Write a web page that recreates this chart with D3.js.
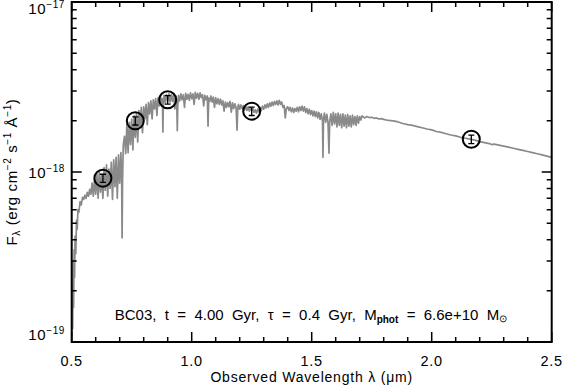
<!DOCTYPE html>
<html>
<head>
<meta charset="utf-8">
<script src="https://cdn.jsdelivr.net/npm/d3@7"></script>
<style>
  body { margin: 0; background: #fff; }
  text { font-family: "Liberation Sans", Arial, Helvetica, sans-serif; fill: #000; }
</style>
</head>
<body>
<div id="chart"></div>
<script>
// size and plot box
var w = 564;
var h = 385;
var boxLeft = 71.7, boxRight = 551.7, boxTop = 2, boxBottom = 342;

// flux unit of the tables below (erg cm^-2 s^-1 A^-1)
var fluxUnit = 1e-18;

// model spectrum [wavelength (um), flux / 1e-18]
var spectrum = [
  [0.500,0.11],[0.502,0.22],[0.504,0.12],[0.506,0.30],[0.508,0.16],[0.510,0.35],[0.512,0.24],[0.514,0.42],
  [0.517,0.33],[0.520,0.52],[0.523,0.46],[0.526,0.60],[0.530,0.58],[0.535,0.67],[0.540,0.64],[0.545,0.71],
  [0.550,0.69],[0.555,0.73],[0.560,0.70],[0.565,0.76],[0.570,0.72],[0.575,0.79],[0.580,0.74],[0.585,0.86],
  [0.590,0.72],[0.595,0.92],[0.600,0.74],[0.605,0.98],[0.610,0.70],[0.615,1.02],[0.620,0.76],[0.625,0.96],
  [0.630,0.70],[0.635,1.06],[0.640,0.78],[0.645,1.10],[0.650,0.72],[0.655,1.04],[0.660,0.80],[0.665,1.14],
  [0.670,0.69],[0.675,1.18],[0.680,0.82],[0.685,1.22],[0.690,0.70],[0.695,1.26],[0.700,0.86],[0.705,1.30],
  [0.708,0.95],[0.710,0.41],[0.712,0.90],[0.715,1.45],[0.720,1.62],[0.725,1.28],[0.730,1.92],[0.735,1.30],
  [0.740,1.96],[0.745,1.45],[0.750,2.05],[0.755,1.35],[0.760,2.15],[0.765,1.60],[0.770,2.22],[0.775,1.50],
  [0.780,2.30],[0.785,1.85],[0.790,2.40],[0.795,1.70],[0.800,2.42],[0.805,2.05],[0.810,2.50],[0.815,1.90],
  [0.820,2.56],[0.825,2.20],[0.830,2.62],[0.835,2.05],[0.840,2.66],[0.845,2.35],[0.850,2.70],[0.855,2.15],
  [0.860,2.74],[0.865,2.45],[0.870,2.78],[0.875,2.50],[0.878,2.70],[0.880,1.72],[0.882,2.60],[0.885,2.82],
  [0.890,2.55],[0.895,2.85],[0.900,2.62],[0.905,2.88],[0.910,2.58],[0.915,2.86],[0.920,2.60],[0.925,2.84],
  [0.930,2.35],[0.935,2.80],[0.938,2.40],[0.940,1.75],[0.942,2.45],[0.945,2.82],[0.950,2.62],[0.955,2.88],
  [0.960,2.66],[0.965,2.84],[0.970,2.40],[0.975,2.90],[0.980,2.68],[0.985,2.86],[0.990,2.64],[0.995,2.92],
  [1.000,2.70],[1.005,2.88],[1.010,2.50],[1.015,2.94],[1.020,2.72],[1.025,2.90],[1.030,2.68],[1.035,2.92],
  [1.040,2.74],[1.045,2.85],[1.050,2.45],[1.055,2.82],[1.060,2.66],[1.065,2.80],[1.068,1.86],[1.071,2.72],
  [1.075,2.60],[1.080,2.80],[1.085,2.58],[1.090,2.76],[1.095,2.40],[1.100,2.74],[1.105,2.52],[1.110,2.70],
  [1.115,2.50],[1.120,2.68],[1.125,2.48],[1.130,2.62],[1.135,2.28],[1.140,2.58],[1.145,2.40],[1.150,2.56],
  [1.155,2.42],[1.160,2.60],[1.165,2.25],[1.170,2.55],[1.175,2.36],[1.180,2.52],[1.185,2.38],[1.189,1.76],
  [1.192,2.40],[1.195,2.50],[1.200,2.34],[1.205,2.48],[1.210,2.36],[1.215,2.46],[1.220,2.32],[1.225,2.44],
  [1.230,2.30],[1.235,2.42],[1.240,2.28],[1.245,2.38],[1.250,2.30],[1.255,2.36],[1.260,2.24],[1.265,2.32],
  [1.270,2.22],[1.275,2.34],[1.280,2.26],[1.285,2.40],[1.290,2.30],[1.295,2.44],[1.300,2.34],[1.305,2.48],
  [1.310,2.38],[1.315,2.52],[1.320,2.40],[1.325,2.55],[1.330,2.44],[1.335,2.58],[1.340,2.46],[1.345,2.60],
  [1.350,2.50],[1.355,2.62],[1.360,2.48],[1.365,2.64],[1.370,2.50],[1.375,2.58],[1.380,2.40],[1.385,2.46],
  [1.390,2.08],[1.394,2.36],[1.400,2.42],[1.405,2.30],[1.410,2.40],[1.415,2.26],[1.420,2.38],[1.425,2.24],
  [1.430,2.36],[1.435,2.28],[1.440,2.40],[1.445,2.26],[1.450,2.42],[1.455,2.30],[1.460,2.44],[1.465,2.28],
  [1.470,2.42],[1.475,2.24],[1.480,2.36],[1.485,2.20],[1.490,2.34],[1.495,2.18],[1.500,2.30],[1.505,2.14],
  [1.510,2.28],[1.515,2.12],[1.520,2.26],[1.525,2.08],[1.530,2.24],[1.535,2.04],[1.540,2.20],[1.545,2.00],
  [1.547,1.22],[1.549,2.02],[1.553,2.22],[1.558,1.96],[1.563,2.18],[1.568,1.95],[1.572,1.29],[1.575,1.98],
  [1.580,2.20],[1.585,1.88],[1.590,2.24],[1.595,1.92],[1.600,2.20],[1.605,1.84],[1.610,2.22],[1.615,1.88],
  [1.620,2.18],[1.625,1.82],[1.630,2.20],[1.635,1.86],[1.640,2.16],[1.645,1.82],[1.650,2.18],[1.655,1.86],
  [1.660,2.14],[1.665,1.84],[1.670,2.16],[1.675,1.90],[1.680,2.12],[1.685,1.88],[1.690,2.14],[1.695,1.94],
  [1.700,2.12],[1.705,2.02],[1.710,2.14],[1.720,2.08],[1.730,2.12],[1.740,2.09],[1.750,2.10],[1.760,2.07],
  [1.770,2.08],[1.780,2.05],[1.790,2.06],[1.800,2.04],[1.820,2.01],[1.840,2.00],[1.860,1.97],[1.880,1.93],
  [1.900,1.90],[1.920,1.88],[1.940,1.85],[1.960,1.82],[1.980,1.79],[2.000,1.77],[2.020,1.73],[2.040,1.71],
  [2.060,1.68],[2.080,1.65],[2.100,1.63],[2.120,1.60],[2.140,1.58],[2.160,1.56],[2.180,1.54],[2.200,1.51],
  [2.220,1.49],[2.240,1.47],[2.250,1.45],[2.260,1.46],[2.280,1.44],[2.300,1.42],[2.320,1.40],[2.340,1.38],
  [2.360,1.36],[2.380,1.34],[2.400,1.32],[2.420,1.30],[2.440,1.28],[2.460,1.26],[2.480,1.24],[2.500,1.22]
];

// photometry points
var photWave = [0.63, 0.765, 0.90, 1.25, 2.165];
var photFlux = [0.92, 2.00, 2.66, 2.28, 1.56];
var photErr  = [0.05, 0.11, 0.15, 0.13, 0.09];

// axis ticks
var xMajor = [0.5, 1.0, 1.5, 2.0, 2.5];
var xMinor = [0.6, 0.7, 0.8, 0.9, 1.1, 1.2, 1.3, 1.4, 1.6, 1.7, 1.8, 1.9, 2.1, 2.2, 2.3, 2.4];
var yMajor = [1e-19, 1e-18, 1e-17];
var yExp = ["\u221219", "\u221218", "\u221217"];
var yMinor = [2e-19, 3e-19, 4e-19, 5e-19, 6e-19, 7e-19, 8e-19, 9e-19,
              2e-18, 3e-18, 4e-18, 5e-18, 6e-18, 7e-18, 8e-18, 9e-18];

// scales
var xScale = d3.scaleLinear().domain([0.5, 2.5]).range([boxLeft, boxRight]);
var yScale = d3.scaleLog().domain([1e-19, 1e-17]).range([boxBottom, boxTop]);

var svg = d3.select("#chart").append("svg")
    .attr("width", w)
    .attr("height", h)
    .style("display", "block");

svg.append("rect").attr("width", w).attr("height", h).attr("fill", "#fff");

svg.append("clipPath").attr("id", "clip")
  .append("rect")
    .attr("x", boxLeft).attr("y", boxTop)
    .attr("width", boxRight - boxLeft).attr("height", boxBottom - boxTop);

// spectrum line
var line = d3.line()
    .x(d => xScale(d[0]))
    .y(d => yScale(d[1] * fluxUnit));

svg.append("path")
    .datum(spectrum)
    .attr("clip-path", "url(#clip)")
    .attr("fill", "none")
    .attr("stroke", "#8a8a8a")
    .attr("stroke-width", 1.7)
    .attr("stroke-linejoin", "round")
    .attr("d", line);

// photometry: open circle with small error bar inside
var phot = photWave.map((x, i) => ({ x: x, y: photFlux[i], e: photErr[i] }));
var pts = svg.selectAll("g.phot").data(phot).enter().append("g").attr("class", "phot");

pts.append("circle")
    .attr("cx", d => xScale(d.x))
    .attr("cy", d => yScale(d.y * fluxUnit))
    .attr("r", 8.5)
    .attr("fill", "none")
    .attr("stroke", "#000")
    .attr("stroke-width", 2);

pts.append("path")
    .attr("fill", "none")
    .attr("stroke", "#000")
    .attr("stroke-width", 1.3)
    .attr("d", d => {
        var cx = xScale(d.x);
        var y0 = yScale((d.y - d.e) * fluxUnit), y1 = yScale((d.y + d.e) * fluxUnit);
        return `M${cx},${y0}V${y1}M${cx - 3},${y0}H${cx + 3}M${cx - 3},${y1}H${cx + 3}`;
    });

// frame
svg.append("rect")
    .attr("x", boxLeft).attr("y", boxTop)
    .attr("width", boxRight - boxLeft).attr("height", boxBottom - boxTop)
    .attr("fill", "none")
    .attr("stroke", "#000")
    .attr("stroke-width", 2);

// ticks on all four sides (pointing in)
function xTicks(vals, len) {
    svg.selectAll(null).data(vals).enter().append("path")
        .attr("stroke", "#000").attr("stroke-width", 1.5)
        .attr("d", d => `M${xScale(d)},${boxBottom}v${-len}M${xScale(d)},${boxTop}v${len}`);
}
function yTicks(vals, len) {
    svg.selectAll(null).data(vals).enter().append("path")
        .attr("stroke", "#000").attr("stroke-width", 1.5)
        .attr("d", d => `M${boxLeft},${yScale(d)}h${len}M${boxRight},${yScale(d)}h${-len}`);
}
xTicks(xMajor, 10);
xTicks(xMinor, 5);
yTicks(yMajor, 10);
yTicks(yMinor, 5);

// x tick labels
svg.selectAll(null).data(xMajor).enter().append("text")
    .attr("x", d => xScale(d))
    .attr("y", 366)
    .attr("text-anchor", "middle")
    .style("font-size", "14.5px")
    .style("letter-spacing", "0.7px")
    .text(d => d.toFixed(1));

// y tick labels 10^n (kept inside the axis range like the original)
var yShift = [-2, 6, 12];
yMajor.forEach((v, i) => {
    var t = svg.append("text")
        .attr("x", 65)
        .attr("y", yScale(v) + yShift[i])
        .attr("text-anchor", "end")
        .style("font-size", "15px")
        .style("letter-spacing", "0.6px");
    t.append("tspan").text("10");
    t.append("tspan").attr("dy", -6).style("font-size", "10px").text(yExp[i]);
});

// axis titles
svg.append("text")
    .attr("x", (boxLeft + boxRight) / 2)
    .attr("y", 382)
    .attr("text-anchor", "middle")
    .style("font-size", "14px")
    .style("letter-spacing", "0.8px")
    .text("Observed Wavelength \u03bb (\u03bcm)");

var yt = svg.append("text")
    .attr("transform", "translate(17,172) rotate(-90)")
    .attr("text-anchor", "middle")
    .style("font-size", "15px")
    .style("letter-spacing", "0.6px");
yt.append("tspan").text("F");
yt.append("tspan").attr("dy", 3).style("font-size", "10px").text("\u03bb");
yt.append("tspan").attr("dy", -3).text(" (erg cm");
yt.append("tspan").attr("dy", -6).style("font-size", "10px").text("\u22122");
yt.append("tspan").attr("dy", 6).text(" s");
yt.append("tspan").attr("dy", -6).style("font-size", "10px").text("\u22121");
yt.append("tspan").attr("dy", 6).text(" \u00c5");
yt.append("tspan").attr("dy", -6).style("font-size", "10px").text("\u22121");
yt.append("tspan").attr("dy", 6).text(")");

// model annotation
var ann = svg.append("text")
    .attr("x", 311)
    .attr("y", 320)
    .attr("text-anchor", "middle")
    .attr("xml:space", "preserve")
    .style("white-space", "pre")
    .style("font-size", "15px");
ann.append("tspan").text("BC03,  t  =  4.00  Gyr,  \u03c4  =  0.4  Gyr,  M");
ann.append("tspan").attr("dy", 3).style("font-size", "10px").style("font-weight", "bold").text("phot");
ann.append("tspan").attr("dy", -3).text("  =  6.6e+10  M");
ann.append("tspan").attr("dy", 2).style("font-size", "10px").text("\u2299");
</script>
</body>
</html>
